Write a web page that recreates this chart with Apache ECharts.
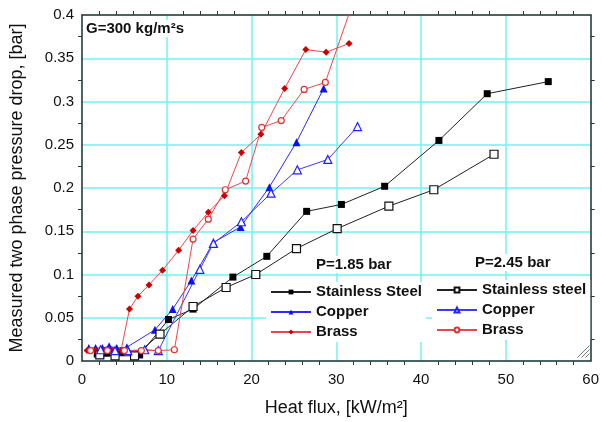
<!DOCTYPE html>
<html>
<head>
<meta charset="utf-8">
<script src="https://cdn.jsdelivr.net/npm/echarts@6/dist/echarts.min.js"></script>
<style>
    html, body { margin: 0; padding: 0; background: #fff; }
    #chart { width: 602px; height: 422px; }
</style>
</head>
<body>
<div id="chart"></div>
<script>
// 数据 (heat flux kW/m2, pressure drop bar)
var ssAx = [1.8, 2.9, 4.6, 6.8, 10.2, 13.1, 17.8, 21.8, 26.5, 30.6, 35.7, 42.1, 47.8, 55.0];
var ssAy = [0.008, 0.009, 0.010, 0.007, 0.048, 0.060, 0.097, 0.121, 0.173, 0.181, 0.202, 0.255, 0.309, 0.323];
var cuAx = [0.8, 1.6, 2.4, 3.2, 4.1, 5.3, 8.6, 10.7, 12.9, 15.5, 18.7, 22.1, 25.3, 28.5];
var cuAy = [0.015, 0.015, 0.015, 0.017, 0.015, 0.016, 0.036, 0.060, 0.093, 0.137, 0.155, 0.201, 0.253, 0.315];
var brAx = [0.6, 1.6, 2.6, 3.6, 4.6, 5.6, 6.6, 7.9, 9.5, 11.4, 13.1, 14.9, 16.8, 18.8, 21.1, 23.9, 26.4, 28.8, 31.5];
var brAy = [0.012, 0.012, 0.012, 0.012, 0.012, 0.060, 0.075, 0.088, 0.105, 0.128, 0.151, 0.172, 0.191, 0.241, 0.262, 0.315, 0.360, 0.357, 0.367];

var ssBx = [2.1, 3.9, 6.2, 9.2, 13.1, 17.0, 20.5, 25.3, 30.1, 36.2, 41.5, 48.6];
var ssBy = [0.007, 0.006, 0.006, 0.031, 0.063, 0.085, 0.100, 0.130, 0.153, 0.179, 0.198, 0.239];
var cuBx = [2.2, 3.9, 5.4, 7.4, 9.0, 13.9, 15.5, 18.8, 22.3, 25.4, 29.0, 32.5];
var cuBy = [0.013, 0.012, 0.012, 0.013, 0.012, 0.106, 0.136, 0.161, 0.194, 0.221, 0.233, 0.271];
var brBx = [1.0, 3.0, 5.0, 7.0, 9.0, 10.9, 13.1, 14.9, 16.9, 19.3, 21.2, 23.5, 26.2, 28.7, 32.5];
var brBy = [0.012, 0.012, 0.012, 0.012, 0.012, 0.013, 0.141, 0.164, 0.198, 0.208, 0.270, 0.278, 0.314, 0.322, 0.430];

var xTicks = [0, 10, 20, 30, 40, 50, 60];
var yTicks = [0, 0.05, 0.1, 0.15, 0.2, 0.25, 0.3, 0.35, 0.4];

function pairs(xs, ys) {
    return xs.map(function (x, i) { return [x, ys[i]]; });
}

var font = '"Liberation Sans", Arial, sans-serif';
var gridColor = '#70f2f2';

function line(name, xs, ys, color, symbol, size, hollow, symColor) {
    return {
        name: name,
        type: 'line',
        xAxisIndex: 0,
        yAxisIndex: 0,
        data: pairs(xs, ys),
        symbol: symbol,
        symbolSize: size,
        showAllSymbol: true,
        clip: true,
        lineStyle: { color: color, width: 1 },
        itemStyle: {
            color: hollow ? '#fff' : (symColor || color),
            borderColor: symColor || color,
            borderWidth: hollow ? 1.2 : 0
        },
        z: 3
    };
}

var myChart = echarts.init(document.getElementById('chart'));
var option = {
    backgroundColor: '#fff',
    animation: false,
    grid: { left: 80, right: 8, top: 15, bottom: 60 },
    xAxis: [{
        type: 'value',
        min: 0, max: 60, interval: 10,
        name: 'Heat flux, [kW/m²]',
        nameLocation: 'middle',
        nameGap: 38,
        nameTextStyle: { fontFamily: font, fontSize: 18, color: '#111' },
        axisLine: { lineStyle: { color: '#333', width: 1.5 } },
        axisTick: { show: false },
        minorTick: { show: true, splitNumber: 5, length: 4, lineStyle: { color: '#333' } },
        axisLabel: {
            fontFamily: font, fontSize: 15, color: '#111', margin: 11,
            customValues: xTicks
        },
        splitLine: { show: true, lineStyle: { color: gridColor, width: 1.5 } }
    }, {
        type: 'value',
        position: 'top',
        min: 0, max: 60, interval: 10,
        axisLine: { show: true, onZero: false, lineStyle: { color: '#333', width: 1.5 } },
        axisTick: { show: false },
        minorTick: { show: true, splitNumber: 5, length: 4, lineStyle: { color: '#333' } },
        axisLabel: { show: false },
        splitLine: { show: false }
    }],
    yAxis: [{
        type: 'value',
        min: 0, max: 0.4, interval: 0.05,
        name: 'Measured two phase pressure drop, [bar]',
        nameLocation: 'middle',
        nameGap: 56,
        nameTextStyle: { fontFamily: font, fontSize: 18, color: '#111' },
        axisLine: { show: true, lineStyle: { color: '#333', width: 1.5 } },
        axisTick: { show: false },
        minorTick: { show: true, splitNumber: 2, length: 4, lineStyle: { color: '#333' } },
        axisLabel: {
            fontFamily: font, fontSize: 15, color: '#111', margin: 8,
            customValues: yTicks,
            formatter: function (v) { return String(Math.round(v * 100) / 100); }
        },
        splitLine: { show: true, lineStyle: { color: gridColor, width: 1.5 } }
    }, {
        type: 'value',
        position: 'right',
        min: 0, max: 0.4, interval: 0.05,
        axisLine: { show: true, onZero: false, lineStyle: { color: '#333', width: 1.5 } },
        axisTick: { show: false },
        minorTick: { show: true, splitNumber: 2, length: 4, lineStyle: { color: '#333' } },
        axisLabel: { show: false },
        splitLine: { show: false }
    }],
    legend: [{
        orient: 'vertical',
        left: 266, top: 282,
        data: ['Stainless Steel', 'Copper', 'Brass'],
        itemWidth: 40, itemHeight: 6, itemGap: 4,
        backgroundColor: '#fff',
        padding: [2, 4, 2, 4],
        textStyle: { fontFamily: font, fontSize: 15, fontWeight: 'bold', color: '#111', lineHeight: 16 },
        formatter: function (n) { return n.trim(); }
    }, {
        orient: 'vertical',
        left: 432, top: 280,
        data: ['Stainless steel', 'Copper ', 'Brass '],
        itemWidth: 40, itemHeight: 6, itemGap: 4,
        backgroundColor: '#fff',
        padding: [2, 4, 2, 4],
        textStyle: { fontFamily: font, fontSize: 15, fontWeight: 'bold', color: '#111', lineHeight: 16 },
        formatter: function (n) { return n.trim(); }
    }],
    graphic: [{
        type: 'text', left: 84, top: 20, z: 5,
        style: {
            text: 'G=300 kg/m²s', fill: '#111',
            font: 'bold 15px ' + font,
            backgroundColor: '#fff', padding: [1, 2]
        }
    }, {
        type: 'text', left: 313, top: 256, z: 5,
        style: {
            text: 'P=1.85 bar', fill: '#111',
            font: 'bold 15px ' + font,
            backgroundColor: '#fff', padding: [1, 3]
        }
    }, {
        type: 'text', left: 472, top: 254, z: 5,
        style: {
            text: 'P=2.45 bar', fill: '#111',
            font: 'bold 15px ' + font,
            backgroundColor: '#fff', padding: [1, 3]
        }
    }, {
        // size grip in the corner
        type: 'group', right: 10, bottom: 62, z: 5,
        children: [0, 4, 8].map(function (d) {
            return {
                type: 'line',
                shape: { x1: d, y1: 12, x2: 12, y2: d },
                style: { stroke: '#777', lineWidth: 1 }
            };
        })
    }],
    series: [
        line('Stainless Steel', ssAx, ssAy, '#222', 'rect', 7, false, '#000'),
        line('Copper', cuAx, cuAy, '#2a2aff', 'triangle', 8, false, '#1010ee'),
        line('Brass', brAx, brAy, '#e8484a', 'diamond', 7, false, '#cc0000'),
        line('Stainless steel', ssBx, ssBy, '#222', 'rect', 8, true, '#111'),
        line('Copper ', cuBx, cuBy, '#3a3aff', 'triangle', 8, true, '#2020ff'),
        line('Brass ', brBx, brBy, '#e8484a', 'circle', 6, true, '#e03030')
    ]
};
myChart.setOption(option);
</script>
</body>
</html>
